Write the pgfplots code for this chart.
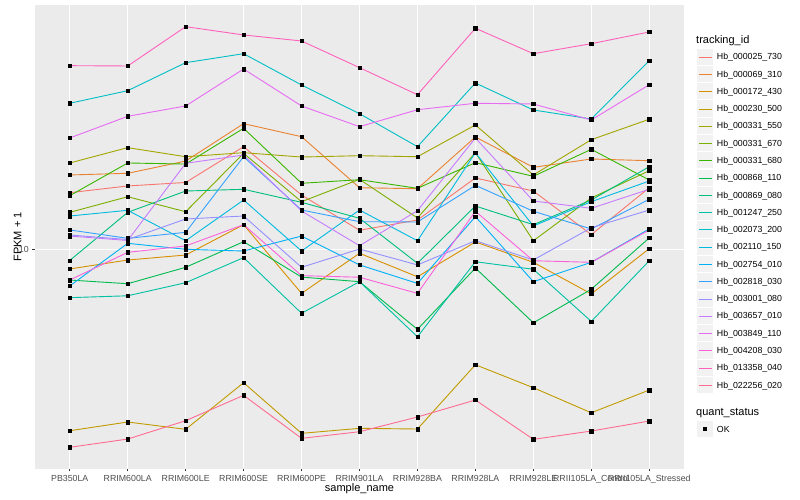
\documentclass[border=0pt]{standalone}
\usepackage{fontspec}
\setmainfont{Liberation Sans}
\usepackage{pgfplots}
\usepackage{pgfplotstable}
\pgfplotsset{compat=1.18}

\definecolor{panelgrey}{HTML}{EBEBEB}
\definecolor{keygrey}{HTML}{F2F2F2}
\definecolor{grey30}{HTML}{4D4D4D}
\definecolor{grey20}{HTML}{333333}
\definecolor{c1}{HTML}{F8766D}
\definecolor{c2}{HTML}{EA8331}
\definecolor{c3}{HTML}{D89000}
\definecolor{c4}{HTML}{C09B00}
\definecolor{c5}{HTML}{A3A500}
\definecolor{c6}{HTML}{7CAE00}
\definecolor{c7}{HTML}{39B600}
\definecolor{c8}{HTML}{00BB4E}
\definecolor{c9}{HTML}{00BF7D}
\definecolor{c10}{HTML}{00C1A3}
\definecolor{c11}{HTML}{00BFC4}
\definecolor{c12}{HTML}{00BAE0}
\definecolor{c13}{HTML}{00B0F6}
\definecolor{c14}{HTML}{35A2FF}
\definecolor{c15}{HTML}{9590FF}
\definecolor{c16}{HTML}{C77CFF}
\definecolor{c17}{HTML}{E76BF3}
\definecolor{c18}{HTML}{FA62DB}
\definecolor{c19}{HTML}{FF62BC}
\definecolor{c20}{HTML}{FF6C91}

% FPKM + 1, one row per sample, one column per tracking_id
\pgfplotstableread{
x  s1    s2    s3    s4    s5    s6    s7    s8    s9    s10   s11   s12   s13   s14   s15   s16   s17   s18   s19   s20
0  15.44 17.69 8.60  2.485 19.40 13.28 15.09 7.90  9.18  6.90  30.67 12.91 7.55  11.60 11.16 11.07 23.50 7.90  40.93 2.188
1  16.26 17.92 9.21  2.657 21.82 14.97 19.40 7.68  13.28 7.00  33.78 13.49 10.47 10.88 10.78 10.70 27.75 9.77  40.83 2.331
2  16.70 19.69 9.57  2.512 20.35 13.34 19.24 8.71  15.64 7.74  41.88 10.68 10.00 11.39 12.62 19.35 30.04 10.26 55.21 2.684
3  21.98 26.23 12.08 3.592 20.99 20.89 25.31 10.60 15.85 9.38  44.87 14.60 9.87  20.35 12.91 20.62 39.90 12.08 51.80 3.261
4  15.17 23.73 7.13  2.436 20.30 14.41 16.60 8.08  14.34 6.12  35.29 9.87  11.07 13.52 8.71  13.42 30.04 8.17  49.47 2.344
5  11.57 16.04 9.70  2.531 20.51 17.11 17.06 7.80  12.69 7.80  28.31 13.52 8.87  12.36 10.02 10.28 25.63 8.07  40.31 2.466
6  12.52 15.92 8.10  2.518 20.35 12.72 15.97 5.41  8.98  5.11  21.98 10.68 7.70  12.33 8.87  13.45 29.19 7.13  32.75 2.761
7  17.29 23.68 10.58 4.124 25.97 20.99 19.44 8.66  13.94 9.09  35.83 20.99 12.85 16.34 10.68 23.50 30.67 13.39 54.54 3.146
8  15.64 18.76 9.05  3.457 17.69 10.68 17.51 5.69  12.08 8.58  29.13 11.96 7.80  13.39 9.21  14.49 30.50 9.16  44.87 2.326
9  11.19 20.00 7.10  2.852 23.19 14.83 21.54 7.36  14.60 5.75  27.18 14.41 9.05  11.69 11.80 13.70 26.98 9.05  48.45 2.479
10 16.04 19.74 10.05 3.396 27.13 18.28 17.02 10.91 18.85 9.16  42.54 16.89 11.69 14.68 13.52 15.85 35.37 11.60 53.01 2.677
}\fpkm

\begin{document}
\begin{tikzpicture}[x=1pt,y=1pt]
\path[fill=white] (0,0) rectangle (800,500);
\begin{axis}[
  at={(35pt,31.3pt)}, anchor=south west,
  scale only axis, width=649pt, height=463.7pt,
  xmin=-0.6, xmax=10.6,
  ymode=log, ymin=1.857, ymax=65.2,
  axis background/.style={fill=panelgrey},
  axis line style={draw=none},
  tick pos=left, tick align=outside,
  major tick length=2.75pt,
  tick style={grey20, line width=1pt},
  yminorticks=false, yminorgrids=false,
  xtick={0,...,10},
  xticklabels={PB350LA,RRIM600LA,RRIM600LE,RRIM600SE,RRIM600PE,RRIM901LA,RRIM928BA,RRIM928LA,RRIM928LE,RRII105LA\_Control,RRII105LA\_Stressed},
  ytick={10}, yticklabels={\mbox{10}},
  ticklabel style={font=\fontsize{8.8}{10}\selectfont, text=grey30},
  grid=major, major grid style={white, line width=1.07pt},
  xlabel={sample\_name}, ylabel={FPKM + 1},
  every axis x label/.style={at={(axis description cs:0.5,0)}, anchor=north, yshift=-14.6pt, inner sep=0pt, font=\fontsize{11}{13}\selectfont},
  every axis y label/.style={at={(axis description cs:0,0.5)}, xshift=-13.3pt, rotate=90, anchor=south, inner sep=0pt, font=\fontsize{11}{13}\selectfont},
]
\pgfplotsinvokeforeach{1,...,20}{
  \addplot[c#1, line width=0.9pt, no markers] table[x=x, y=s#1] {\fpkm};
}
\pgfplotsinvokeforeach{1,...,20}{
  \addplot[only marks, mark=square*, mark size=1.7pt, black] table[x=x, y=s#1] {\fpkm};
}
\end{axis}

% legend
\node[anchor=base west, inner sep=0, font=\fontsize{11}{13}\selectfont] at (696,456.7) {tracking\_id};
\foreach \i/\nm in {1/Hb\_000025\_730, 2/Hb\_000069\_310, 3/Hb\_000172\_430, 4/Hb\_000230\_500,
  5/Hb\_000331\_550, 6/Hb\_000331\_670, 7/Hb\_000331\_680, 8/Hb\_000868\_110,
  9/Hb\_000869\_080, 10/Hb\_001247\_250, 11/Hb\_002073\_200, 12/Hb\_002110\_150,
  13/Hb\_002754\_010, 14/Hb\_002818\_030, 15/Hb\_003001\_080, 16/Hb\_003657\_010,
  17/Hb\_003849\_110, 18/Hb\_004208\_030, 19/Hb\_013358\_040, 20/Hb\_022256\_020}{
  \pgfmathsetmacro\yc{500-56.7-17.28*(\i-1)}
  \pgfmathsetmacro\rr{500-round(56.7+17.28*(\i-1))}
  \fill[keygrey] (697.3,\yc-8.1) rectangle (713,\yc+8.1);
  \fill[c\i] (698.5,\rr) rectangle (711.8,\rr-1.2);
  \node[anchor=base west, inner sep=0, font=\fontsize{8.8}{10}\selectfont] at (716.7,\yc-3.1) {\nm};
}
\node[anchor=base west, inner sep=0, font=\fontsize{11}{13}\selectfont] at (696,84.3) {quant\_status};
\fill[keygrey] (697.3,63) rectangle (713,79);
\fill[black] (703.2,69.2) rectangle (706.8,72.8);
\node[anchor=base west, inner sep=0, font=\fontsize{8.8}{10}\selectfont] at (716.7,67.9) {OK};
\end{tikzpicture}
\end{document}
